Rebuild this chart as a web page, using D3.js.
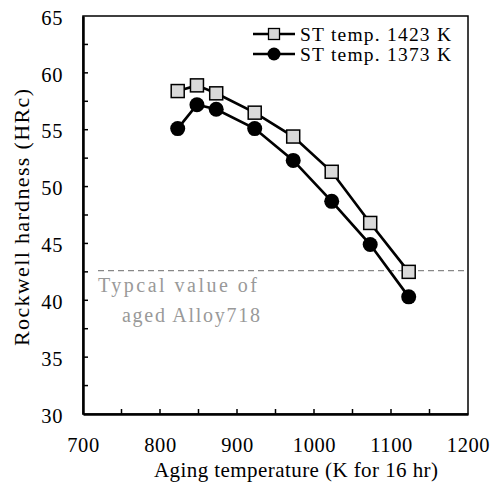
<!DOCTYPE html>
<html><head><meta charset="utf-8">
<script src="https://cdn.jsdelivr.net/npm/d3@7"></script>
<style>body{margin:0;background:#fff}svg{display:block}text{font-family:"Liberation Serif","Times New Roman",serif}</style>
</head><body><svg id="c" width="493" height="485"></svg>
<script>
const agingTemp = [823, 848, 873, 923, 973, 1023, 1073, 1123];
const hard1423 = [58.4, 58.9, 58.2, 56.5, 54.4, 51.3, 46.8, 42.5];
const hard1373 = [55.1, 57.2, 56.8, 55.1, 52.3, 48.7, 44.9, 40.3];
const seriesNames = ["ST temp. 1423 K", "ST temp. 1373 K"];
const xTicks = [700, 800, 900, 1000, 1100, 1200];
const yTicks = [30, 35, 40, 45, 50, 55, 60, 65];
const refValue = 42.6;
const refLabel = ["Typcal value of", "aged Alloy718"];

const svg = d3.select("#c");
const L = 83, R = 468, T = 16, B = 414;
const x = d3.scaleLinear().domain([700, 1200]).range([L, R]);
const y = d3.scaleLinear().domain([30, 65]).range([B, T]);

// frame
svg.append("rect").attr("x", L).attr("y", T).attr("width", R - L).attr("height", B - T)
  .attr("fill", "none").attr("stroke", "#000").attr("stroke-width", 1.5);

// minor ticks inward
const xMinor = d3.range(750, 1200, 50);
svg.append("g").selectAll("line").data(xMinor).join("line")
  .attr("x1", d => x(d)).attr("x2", d => x(d)).attr("y1", B).attr("y2", B - 5)
  .attr("stroke", "#000").attr("stroke-width", 1.5);
const yMinor = d3.range(32.5, 65, 2.5);
svg.append("g").selectAll("line").data(yMinor).join("line")
  .attr("x1", L).attr("x2", L + 5).attr("y1", d => y(d)).attr("y2", d => y(d))
  .attr("stroke", "#000").attr("stroke-width", 1.5);

// axes
const gx = svg.append("g").attr("transform", `translate(0,${B})`)
  .call(d3.axisBottom(x).tickValues(xTicks).tickSize(0).tickFormat(d3.format("d")));
gx.selectAll("text").attr("y", 37.5).attr("dy", null);
const gy = svg.append("g").attr("transform", `translate(${L},0)`)
  .call(d3.axisLeft(y).tickValues(yTicks).tickSize(0));
gy.selectAll("text").attr("x", -20).attr("dy", "0.4em");
[gx, gy].forEach(g => {
  g.select(".domain").attr("stroke", "#000").attr("stroke-width", 2.5);
  g.selectAll("text").attr("font-size", 20.5).attr("fill", "#000").attr("letter-spacing", 0.6)
    .attr("font-family", '"Liberation Serif", serif');
});

// reference line
svg.append("line").attr("x1", 98).attr("x2", R - 2).attr("y1", y(refValue)).attr("y2", y(refValue))
  .attr("stroke", "#888").attr("stroke-width", 1.3).attr("stroke-dasharray", "6,4");
svg.append("text").attr("x", 98).attr("y", y(refValue) + 21.5).attr("font-size", 20).attr("fill", "#999")
  .attr("textLength", 159).attr("lengthAdjust", "spacing").text(refLabel[0]);
svg.append("text").attr("x", 122).attr("y", y(refValue) + 51.5).attr("font-size", 20).attr("fill", "#999")
  .attr("textLength", 138).attr("lengthAdjust", "spacing").text(refLabel[1]);

const line = d3.line().x(d => x(d[0])).y(d => y(d[1]));
const d1 = agingTemp.map((t, i) => [t, hard1423[i]]);
const d2 = agingTemp.map((t, i) => [t, hard1373[i]]);

svg.append("path").datum(d2).attr("d", line).attr("fill", "none").attr("stroke", "#000").attr("stroke-width", 2.7);
svg.append("path").datum(d1).attr("d", line).attr("fill", "none").attr("stroke", "#000").attr("stroke-width", 2.7);

svg.append("g").selectAll("circle").data(d2).join("circle")
  .attr("cx", d => x(d[0])).attr("cy", d => y(d[1])).attr("r", 7.5).attr("fill", "#000");
const s = 13;
svg.append("g").selectAll("rect").data(d1).join("rect")
  .attr("x", d => x(d[0]) - s / 2).attr("y", d => y(d[1]) - s / 2).attr("width", s).attr("height", s)
  .attr("fill", "#d9d9d9").attr("stroke", "#000").attr("stroke-width", 1.5);

// legend
const lg = svg.append("g");
const ly = [34, 54];
ly.forEach((yy, i) => {
  lg.append("line").attr("x1", 253).attr("x2", 295).attr("y1", yy).attr("y2", yy)
    .attr("stroke", "#000").attr("stroke-width", 2.5);
  if (i === 0) {
    lg.append("rect").attr("x", 274 - 5.5).attr("y", yy - 5.5).attr("width", 11).attr("height", 11)
      .attr("fill", "#d9d9d9").attr("stroke", "#000").attr("stroke-width", 1.3);
  } else {
    lg.append("circle").attr("cx", 274).attr("cy", yy).attr("r", 6.5).attr("fill", "#000");
  }
  lg.append("text").attr("x", 300).attr("y", yy + 6.5).attr("font-size", 19.5).attr("fill", "#000")
    .attr("textLength", 151).attr("lengthAdjust", "spacing").text(seriesNames[i]);
});

// axis titles
svg.append("text").attr("x", 154).attr("y", 477)
  .attr("font-size", 21).attr("textLength", 284).attr("lengthAdjust", "spacing")
  .text("Aging temperature (K for 16 hr)");
svg.append("text").attr("transform", `translate(29,217.5) rotate(-90)`).attr("text-anchor", "middle")
  .attr("font-size", 22).attr("textLength", 257).attr("lengthAdjust", "spacing")
  .text("Rockwell hardness (HRc)");
</script></body></html>
